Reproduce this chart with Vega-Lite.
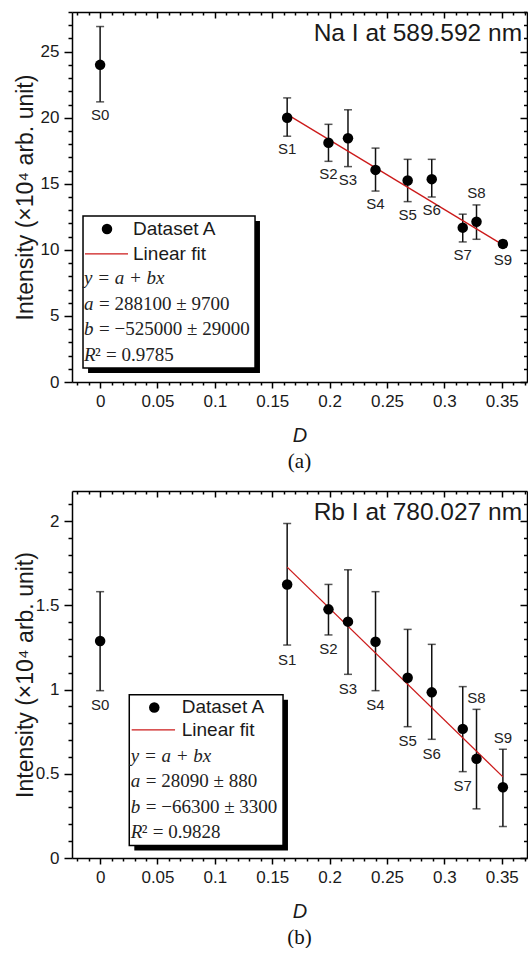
{
"$schema": "https://vega.github.io/schema/vega-lite/v6.json",
"padding": {"left": 14, "top": 3, "right": 0, "bottom": 0},
"bounds": "flush",
"spacing": 109,
"datasets": {
"na": [
{"s":"S0","D":0,"I":24.0,"lo":21.2,"hi":26.9},
{"s":"S1","D":0.163,"I":20.0,"lo":18.6,"hi":21.5},
{"s":"S2","D":0.199,"I":18.1,"lo":16.7,"hi":19.5},
{"s":"S3","D":0.216,"I":18.45,"lo":16.3,"hi":20.6},
{"s":"S4","D":0.24,"I":16.05,"lo":14.45,"hi":17.7},
{"s":"S5","D":0.268,"I":15.25,"lo":13.65,"hi":16.85},
{"s":"S6","D":0.289,"I":15.35,"lo":14.0,"hi":16.85},
{"s":"S7","D":0.316,"I":11.68,"lo":10.6,"hi":12.7},
{"s":"S8","D":0.328,"I":12.13,"lo":10.8,"hi":13.4},
{"s":"S9","D":0.351,"I":10.45,"lo":10.2,"hi":10.7}],
"rb": [
{"s":"S0","D":0,"I":1.289,"lo":0.994,"hi":1.582},
{"s":"S1","D":0.163,"I":1.625,"lo":1.265,"hi":1.987},
{"s":"S2","D":0.199,"I":1.477,"lo":1.325,"hi":1.625},
{"s":"S3","D":0.216,"I":1.404,"lo":1.091,"hi":1.712},
{"s":"S4","D":0.24,"I":1.285,"lo":0.994,"hi":1.582},
{"s":"S5","D":0.268,"I":1.071,"lo":0.78,"hi":1.358},
{"s":"S6","D":0.289,"I":0.984,"lo":0.705,"hi":1.269},
{"s":"S7","D":0.316,"I":0.767,"lo":0.513,"hi":1.018},
{"s":"S8","D":0.328,"I":0.589,"lo":0.292,"hi":0.883},
{"s":"S9","D":0.351,"I":0.42,"lo":0.187,"hi":0.646}],
"fitNa": [{"D":0.163,"I":20.25},{"D":0.351,"I":10.38}],
"fitRb": [{"D":0.163,"I":1.728},{"D":0.351,"I":0.482}],
"one": [{"k":1}]
},
"vconcat": [
{
"width": 455, "height": 370,
"title": {"text":"(a)","orient":"bottom","font":"Liberation Serif","fontSize":21,"fontWeight":"normal","color":"#111","offset":6},
"data": {"name":"na"},
"resolve": {"axis":{"x":"independent","y":"independent"}},
"layer": [
{"mark":{"type":"rule","color":"#111","strokeWidth":1.5},
 "encoding":{"x":{"field":"D","type":"quantitative","axis":null},"y":{"field":"lo","type":"quantitative","axis":null},"y2":{"field":"hi"}}},
{"mark":{"type":"tick","orient":"horizontal","size":8,"thickness":1.5,"color":"#111"},
 "encoding":{"x":{"field":"D","type":"quantitative","axis":null},"y":{"field":"lo","type":"quantitative","axis":null}}},
{"mark":{"type":"tick","orient":"horizontal","size":8,"thickness":1.5,"color":"#111"},
 "encoding":{"x":{"field":"D","type":"quantitative","axis":null},"y":{"field":"hi","type":"quantitative","axis":null}}},
{"data":{"name":"fitNa"},
 "mark":{"type":"line","color":"#cc1a1a","strokeWidth":1.3},
 "encoding":{
  "x":{"field":"D","type":"quantitative","scale":{"domain":[-0.0245,0.372],"nice":false,"zero":false},
   "axis":{"orient":"top","values":[-0.02,-0.01,0,0.01,0.02,0.03,0.04,0.05,0.06,0.07,0.08,0.09,0.1,0.11,0.12,0.13,0.14,0.15,0.16,0.17,0.18,0.19,0.2,0.21,0.22,0.23,0.24,0.25,0.26,0.27,0.28,0.29,0.3,0.31,0.32,0.33,0.34,0.35,0.36,0.37],"labels":false,"title":null,
   "tickSize":{"condition":{"test":"abs(round(datum.value*100))%5==0","value":-6},"value":-3}}},
  "y":{"field":"I","type":"quantitative","scale":{"domain":[0,28],"nice":false,"zero":false},
   "axis":{"orient":"right","values":[0,1,2,3,4,5,6,7,8,9,10,11,12,13,14,15,16,17,18,19,20,21,22,23,24,25,26,27,28],"labels":false,"title":null,
   "tickSize":{"condition":{"test":"datum.value%5==0","value":-7},"value":-3.5}}}}},
{"mark":{"type":"point","filled":true,"shape":"circle","size":110,"color":"#000","opacity":1},
 "encoding":{
  "x":{"field":"D","type":"quantitative","scale":{"domain":[-0.0245,0.372],"nice":false,"zero":false},
   "axis":{"orient":"bottom","values":[-0.02,-0.01,0,0.01,0.02,0.03,0.04,0.05,0.06,0.07,0.08,0.09,0.1,0.11,0.12,0.13,0.14,0.15,0.16,0.17,0.18,0.19,0.2,0.21,0.22,0.23,0.24,0.25,0.26,0.27,0.28,0.29,0.3,0.31,0.32,0.33,0.34,0.35,0.36,0.37],
   "labelExpr":"abs(round(datum.value*100))%5==0 ? format(datum.value,'~g') : ''",
   "tickSize":{"condition":{"test":"abs(round(datum.value*100))%5==0","value":6},"value":3},
   "labelPadding":5,"labelOverlap":false,"labelFlush":false,
   "title":"D","titleFontStyle":"italic","titleFontSize":20,"titleFontWeight":"normal","titleY":59,"titleBaseline":"alphabetic"}},
  "y":{"field":"I","type":"quantitative","scale":{"domain":[0,28],"nice":false,"zero":false},
   "axis":{"orient":"left","values":[0,1,2,3,4,5,6,7,8,9,10,11,12,13,14,15,16,17,18,19,20,21,22,23,24,25,26,27,28],
   "labelExpr":"datum.value%5==0 ? datum.label : ''",
   "tickSize":{"condition":{"test":"datum.value%5==0","value":8},"value":4},
   "labelPadding":5,"labelOverlap":false,
   "title":"Intensity (×10⁴ arb. unit)","titleFontSize":23,"titleFontWeight":"normal","titleX":-40,"titleY":185,"titleBaseline":"alphabetic"}}}},
{"transform":[{"filter":"datum.s != 'S8'"}],
 "mark":{"type":"text","dy":13,"baseline":"middle","align":"center","font":"Liberation Sans","fontSize":15,"color":"#222"},
 "encoding":{"x":{"field":"D","type":"quantitative","axis":null},"y":{"field":"lo","type":"quantitative","axis":null},"text":{"field":"s"}}},
{"transform":[{"filter":"datum.s == 'S8'"}],
 "mark":{"type":"text","dy":-12,"baseline":"middle","align":"center","font":"Liberation Sans","fontSize":15,"color":"#222"},
 "encoding":{"x":{"field":"D","type":"quantitative","axis":null},"y":{"field":"hi","type":"quantitative","axis":null},"text":{"field":"s"}}},
{"data":{"name":"one"},
 "mark":{"type":"text","text":"Na I at 589.592 nm","align":"right","baseline":"middle","font":"Liberation Sans","fontSize":24.5,"color":"#1a1a1a"},
 "encoding":{"x":{"datum":0.3677,"type":"quantitative","axis":null},"y":{"datum":26.33,"type":"quantitative","axis":null}}},
{"data":{"name":"one"},
 "mark":{"type":"rect","color":"#000"},
 "encoding":{"x":{"datum":-0.0105,"type":"quantitative","axis":null},"x2":{"datum":0.1393},"y":{"datum":12.18,"type":"quantitative","axis":null},"y2":{"datum":0.68}}},
{"data":{"name":"one"},
 "mark":{"type":"rect","fill":"#fff","stroke":"#000","strokeWidth":1.5},
 "encoding":{"x":{"datum":-0.0149,"type":"quantitative","axis":null},"x2":{"datum":0.135},"y":{"datum":12.56,"type":"quantitative","axis":null},"y2":{"datum":1.06}}},
{"data":{"name":"one"},
 "mark":{"type":"point","filled":true,"shape":"circle","size":110,"color":"#000","opacity":1},
 "encoding":{"x":{"datum":0.006,"type":"quantitative","axis":null},"y":{"datum":11.58,"type":"quantitative","axis":null}}},
{"data":{"name":"one"},
 "mark":{"type":"rule","color":"#cc1a1a","strokeWidth":1.3},
 "encoding":{"x":{"datum":-0.0132,"type":"quantitative","axis":null},"x2":{"datum":0.0243},"y":{"datum":9.69,"type":"quantitative","axis":null}}},
{"data":{"name":"one"},
 "mark":{"type":"text","text":"Dataset A","align":"left","baseline":"middle","font":"Liberation Sans","fontSize":19,"color":"#1a1a1a"},
 "encoding":{"x":{"datum":0.0287,"type":"quantitative","axis":null},"y":{"datum":11.58,"type":"quantitative","axis":null}}},
{"data":{"name":"one"},
 "mark":{"type":"text","text":"Linear fit","align":"left","baseline":"middle","font":"Liberation Sans","fontSize":19,"color":"#1a1a1a"},
 "encoding":{"x":{"datum":0.0287,"type":"quantitative","axis":null},"y":{"datum":9.69,"type":"quantitative","axis":null}}},
{"data":{"name":"one"},
 "mark":{"type":"text","text":"y = a + bx\na\nb\nR","lineBreak":"\n","lineHeight":25.6,"align":"left","baseline":"alphabetic","font":"Liberation Serif","fontStyle":"italic","fontSize":19,"color":"#222"},
 "encoding":{"x":{"datum":-0.014,"type":"quantitative","axis":null},"y":{"datum":7.42,"type":"quantitative","axis":null}}},
{"data":{"name":"one"},
 "mark":{"type":"text","text":"= 288100 ± 9700\n= −525000 ± 29000","lineBreak":"\n","lineHeight":25.6,"dx":15,"dy":25.6,"align":"left","baseline":"alphabetic","font":"Liberation Serif","fontSize":19,"color":"#222"},
 "encoding":{"x":{"datum":-0.014,"type":"quantitative","axis":null},"y":{"datum":7.42,"type":"quantitative","axis":null}}},
{"data":{"name":"one"},
 "mark":{"type":"text","text":"²","dx":11,"dy":76.8,"align":"left","baseline":"alphabetic","font":"Liberation Serif","fontSize":19,"color":"#222"},
 "encoding":{"x":{"datum":-0.014,"type":"quantitative","axis":null},"y":{"datum":7.42,"type":"quantitative","axis":null}}},
{"data":{"name":"one"},
 "mark":{"type":"text","text":"= 0.9785","dx":22,"dy":76.8,"align":"left","baseline":"alphabetic","font":"Liberation Serif","fontSize":19,"color":"#222"},
 "encoding":{"x":{"datum":-0.014,"type":"quantitative","axis":null},"y":{"datum":7.42,"type":"quantitative","axis":null}}}
]
},
{
"width": 455, "height": 367,
"title": {"text":"(b)","orient":"bottom","font":"Liberation Serif","fontSize":21,"fontWeight":"normal","color":"#111","offset":6},
"data": {"name":"rb"},
"resolve": {"axis":{"x":"independent","y":"independent"}},
"layer": [
{"mark":{"type":"rule","color":"#111","strokeWidth":1.5},
 "encoding":{"x":{"field":"D","type":"quantitative","axis":null},"y":{"field":"lo","type":"quantitative","axis":null},"y2":{"field":"hi"}}},
{"mark":{"type":"tick","orient":"horizontal","size":8,"thickness":1.5,"color":"#111"},
 "encoding":{"x":{"field":"D","type":"quantitative","axis":null},"y":{"field":"lo","type":"quantitative","axis":null}}},
{"mark":{"type":"tick","orient":"horizontal","size":8,"thickness":1.5,"color":"#111"},
 "encoding":{"x":{"field":"D","type":"quantitative","axis":null},"y":{"field":"hi","type":"quantitative","axis":null}}},
{"data":{"name":"fitRb"},
 "mark":{"type":"line","color":"#cc1a1a","strokeWidth":1.3},
 "encoding":{
  "x":{"field":"D","type":"quantitative","scale":{"domain":[-0.0245,0.372],"nice":false,"zero":false},
   "axis":{"orient":"top","values":[-0.02,-0.01,0,0.01,0.02,0.03,0.04,0.05,0.06,0.07,0.08,0.09,0.1,0.11,0.12,0.13,0.14,0.15,0.16,0.17,0.18,0.19,0.2,0.21,0.22,0.23,0.24,0.25,0.26,0.27,0.28,0.29,0.3,0.31,0.32,0.33,0.34,0.35,0.36,0.37],"labels":false,"title":null,
   "tickSize":{"condition":{"test":"abs(round(datum.value*100))%5==0","value":-6},"value":-3}}},
  "y":{"field":"I","type":"quantitative","scale":{"domain":[0,2.18],"nice":false,"zero":false},
   "axis":{"orient":"right","values":[0,0.1,0.2,0.3,0.4,0.5,0.6,0.7,0.8,0.9,1,1.1,1.2,1.3,1.4,1.5,1.6,1.7,1.8,1.9,2,2.1],"labels":false,"title":null,
   "tickSize":{"condition":{"test":"abs(round(datum.value*10))%5==0","value":-7},"value":-3.5}}}}},
{"mark":{"type":"point","filled":true,"shape":"circle","size":110,"color":"#000","opacity":1},
 "encoding":{
  "x":{"field":"D","type":"quantitative","scale":{"domain":[-0.0245,0.372],"nice":false,"zero":false},
   "axis":{"orient":"bottom","values":[-0.02,-0.01,0,0.01,0.02,0.03,0.04,0.05,0.06,0.07,0.08,0.09,0.1,0.11,0.12,0.13,0.14,0.15,0.16,0.17,0.18,0.19,0.2,0.21,0.22,0.23,0.24,0.25,0.26,0.27,0.28,0.29,0.3,0.31,0.32,0.33,0.34,0.35,0.36,0.37],
   "labelExpr":"abs(round(datum.value*100))%5==0 ? format(datum.value,'~g') : ''",
   "tickSize":{"condition":{"test":"abs(round(datum.value*100))%5==0","value":6},"value":3},
   "labelPadding":5,"labelOverlap":false,"labelFlush":false,
   "title":"D","titleFontStyle":"italic","titleFontSize":20,"titleFontWeight":"normal","titleY":59,"titleBaseline":"alphabetic"}},
  "y":{"field":"I","type":"quantitative","scale":{"domain":[0,2.18],"nice":false,"zero":false},
   "axis":{"orient":"left","values":[0,0.1,0.2,0.3,0.4,0.5,0.6,0.7,0.8,0.9,1,1.1,1.2,1.3,1.4,1.5,1.6,1.7,1.8,1.9,2,2.1],
   "labelExpr":"abs(round(datum.value*10))%5==0 ? format(datum.value,'~g') : ''",
   "tickSize":{"condition":{"test":"abs(round(datum.value*10))%5==0","value":8},"value":4},
   "labelPadding":5,"labelOverlap":false,
   "title":"Intensity (×10⁴ arb. unit)","titleFontSize":23,"titleFontWeight":"normal","titleX":-40,"titleY":183.5,"titleBaseline":"alphabetic"}}}},
{"transform":[{"filter":"datum.s != 'S8' && datum.s != 'S9'"}],
 "mark":{"type":"text","dy":14.5,"baseline":"middle","align":"center","font":"Liberation Sans","fontSize":15,"color":"#222"},
 "encoding":{"x":{"field":"D","type":"quantitative","axis":null},"y":{"field":"lo","type":"quantitative","axis":null},"text":{"field":"s"}}},
{"transform":[{"filter":"datum.s == 'S8' || datum.s == 'S9'"}],
 "mark":{"type":"text","dy":-11,"baseline":"middle","align":"center","font":"Liberation Sans","fontSize":15,"color":"#222"},
 "encoding":{"x":{"field":"D","type":"quantitative","axis":null},"y":{"field":"hi","type":"quantitative","axis":null},"text":{"field":"s"}}},
{"data":{"name":"one"},
 "mark":{"type":"text","text":"Rb I at 780.027 nm","align":"right","baseline":"middle","font":"Liberation Sans","fontSize":24.5,"color":"#1a1a1a"},
 "encoding":{"x":{"datum":0.3677,"type":"quantitative","axis":null},"y":{"datum":2.048,"type":"quantitative","axis":null}}},
{"data":{"name":"one"},
 "mark":{"type":"rect","color":"#000"},
 "encoding":{"x":{"datum":0.0298,"type":"quantitative","axis":null},"x2":{"datum":0.1637},"y":{"datum":0.9397,"type":"quantitative","axis":null},"y2":{"datum":0.0445}}},
{"data":{"name":"one"},
 "mark":{"type":"rect","fill":"#fff","stroke":"#000","strokeWidth":1.5},
 "encoding":{"x":{"datum":0.0254,"type":"quantitative","axis":null},"x2":{"datum":0.1594},"y":{"datum":0.9694,"type":"quantitative","axis":null},"y2":{"datum":0.0742}}},
{"data":{"name":"one"},
 "mark":{"type":"point","filled":true,"shape":"circle","size":110,"color":"#000","opacity":1},
 "encoding":{"x":{"datum":0.0472,"type":"quantitative","axis":null},"y":{"datum":0.894,"type":"quantitative","axis":null}}},
{"data":{"name":"one"},
 "mark":{"type":"rule","color":"#cc1a1a","strokeWidth":1.3},
 "encoding":{"x":{"datum":0.0275,"type":"quantitative","axis":null},"x2":{"datum":0.0653},"y":{"datum":0.7615,"type":"quantitative","axis":null}}},
{"data":{"name":"one"},
 "mark":{"type":"text","text":"Dataset A","align":"left","baseline":"middle","font":"Liberation Sans","fontSize":19,"color":"#1a1a1a"},
 "encoding":{"x":{"datum":0.0711,"type":"quantitative","axis":null},"y":{"datum":0.894,"type":"quantitative","axis":null}}},
{"data":{"name":"one"},
 "mark":{"type":"text","text":"Linear fit","align":"left","baseline":"middle","font":"Liberation Sans","fontSize":19,"color":"#1a1a1a"},
 "encoding":{"x":{"datum":0.0711,"type":"quantitative","axis":null},"y":{"datum":0.7615,"type":"quantitative","axis":null}}},
{"data":{"name":"one"},
 "mark":{"type":"text","text":"y = a + bx\na\nb\nR","lineBreak":"\n","lineHeight":25.6,"align":"left","baseline":"alphabetic","font":"Liberation Serif","fontStyle":"italic","fontSize":19,"color":"#222"},
 "encoding":{"x":{"datum":0.0267,"type":"quantitative","axis":null},"y":{"datum":0.5732,"type":"quantitative","axis":null}}},
{"data":{"name":"one"},
 "mark":{"type":"text","text":"= 28090 ± 880\n= −66300 ± 3300","lineBreak":"\n","lineHeight":25.6,"dx":15,"dy":25.6,"align":"left","baseline":"alphabetic","font":"Liberation Serif","fontSize":19,"color":"#222"},
 "encoding":{"x":{"datum":0.0267,"type":"quantitative","axis":null},"y":{"datum":0.5732,"type":"quantitative","axis":null}}},
{"data":{"name":"one"},
 "mark":{"type":"text","text":"²","dx":11,"dy":76.8,"align":"left","baseline":"alphabetic","font":"Liberation Serif","fontSize":19,"color":"#222"},
 "encoding":{"x":{"datum":0.0267,"type":"quantitative","axis":null},"y":{"datum":0.5732,"type":"quantitative","axis":null}}},
{"data":{"name":"one"},
 "mark":{"type":"text","text":"= 0.9828","dx":22,"dy":76.8,"align":"left","baseline":"alphabetic","font":"Liberation Serif","fontSize":19,"color":"#222"},
 "encoding":{"x":{"datum":0.0267,"type":"quantitative","axis":null},"y":{"datum":0.5732,"type":"quantitative","axis":null}}}
]
}
],
"config": {
 "view": {"stroke": null},
 "font": "Liberation Sans",
 "axis": {"domainColor":"#000","domainWidth":1.5,"tickColor":"#000","tickWidth":1.5,"labelColor":"#1a1a1a","labelFontSize":17,"labelFont":"Liberation Sans","titleFont":"Liberation Sans","titleColor":"#1a1a1a","grid":false}
}
}
